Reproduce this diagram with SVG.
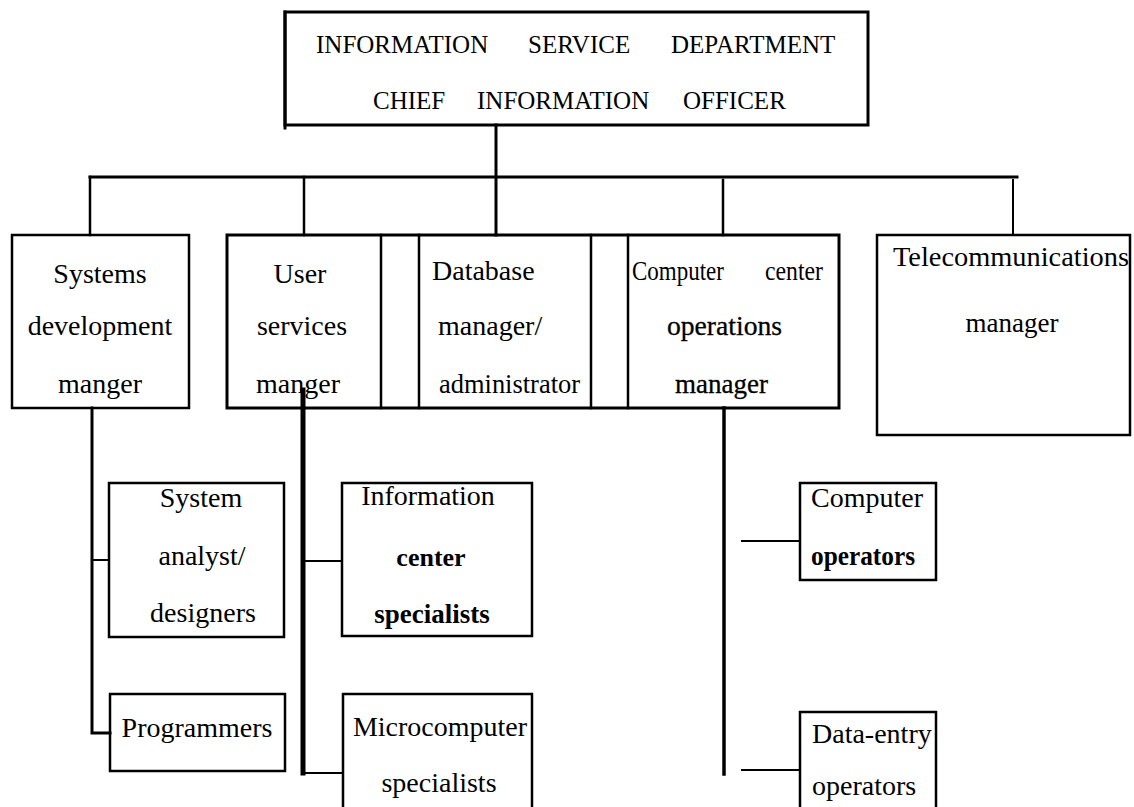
<svg xmlns="http://www.w3.org/2000/svg" width="1134" height="807" viewBox="0 0 1134 807">
<style>
  .box{fill:none;stroke:#000;stroke-width:2.5}
  .heavy{fill:none;stroke:#000;stroke-width:3}
  .ln{stroke:#000;fill:none;stroke-linecap:square}
  text{font-family:"Liberation Serif","Times New Roman",serif;fill:#000;font-size:28px}
  .top{font-size:25px}
  .c{text-anchor:middle}
  .b{font-weight:bold}
  .sb{stroke:#000;stroke-width:0.3}
</style>
<rect width="1134" height="807" fill="#fff"/>

<g id="connectors">
  <line class="ln" x1="496" y1="125" x2="496" y2="235" stroke-width="3"/>
  <line class="ln" x1="90" y1="177" x2="1017" y2="177" stroke-width="3"/>
  <line class="ln" x1="90" y1="177" x2="90" y2="235" stroke-width="2.5"/>
  <line class="ln" x1="304" y1="177" x2="304" y2="235" stroke-width="2.5"/>
  <line class="ln" x1="723" y1="180" x2="723" y2="235" stroke-width="2.5"/>
  <line class="ln" x1="1013" y1="180" x2="1013" y2="235" stroke-width="2"/>
  <polyline class="ln" points="92,408 92,733 110,733" stroke-width="3"/>
  <line class="ln" x1="92" y1="560" x2="109" y2="560" stroke-width="2"/>
  <line class="ln" x1="303" y1="390" x2="303" y2="773" stroke-width="5"/>
  <line class="ln" x1="303" y1="561" x2="342" y2="561" stroke-width="2"/>
  <line class="ln" x1="303" y1="773" x2="343" y2="773" stroke-width="2"/>
  <line class="ln" x1="724" y1="408" x2="724" y2="774" stroke-width="3.5"/>
  <line class="ln" x1="742" y1="541" x2="800" y2="541" stroke-width="2"/>
  <line class="ln" x1="742" y1="770" x2="800" y2="770" stroke-width="2"/>
</g>

<g id="node-ciso">
  <rect class="heavy" x="285" y="12" width="583" height="113"/>
  <line class="ln" x1="285" y1="12" x2="285" y2="128" stroke-width="3"/>
  <text class="top" y="53"><tspan x="316">INFORMATION</tspan><tspan x="528">SERVICE</tspan><tspan x="671">DEPARTMENT</tspan></text>
  <text class="top" y="109"><tspan x="373">CHIEF</tspan><tspan x="477">INFORMATION</tspan><tspan x="683">OFFICER</tspan></text>
</g>

<g id="node-sysdev">
  <rect class="box" x="12" y="235" width="177" height="173"/>
  <text class="c" x="100" y="283">Systems</text>
  <text class="c" x="100" y="335">development</text>
  <text class="c" x="100" y="393">manger</text>
</g>

<g id="manager-frame">
  <rect class="heavy" x="227" y="235" width="612" height="173"/>
  <line class="ln" x1="381" y1="235" x2="381" y2="408" stroke-width="2.5"/>
  <line class="ln" x1="419" y1="235" x2="419" y2="408" stroke-width="2.5"/>
  <line class="ln" x1="591" y1="235" x2="591" y2="408" stroke-width="2.5"/>
  <line class="ln" x1="628" y1="235" x2="628" y2="408" stroke-width="2.5"/>
</g>

<g id="node-userservices">
  <text class="c" x="300" y="283">User</text>
  <text class="c" x="302" y="335">services</text>
  <text class="c" x="298" y="393">manger</text>
</g>

<g id="node-database">
  <text x="432" y="280">Database</text>
  <text x="438" y="335">manager/</text>
  <text x="439" y="393" textLength="141" lengthAdjust="spacingAndGlyphs">administrator</text>
</g>

<g id="node-computercenter">
  <text x="632" y="280" textLength="92" lengthAdjust="spacingAndGlyphs">Computer</text>
  <text x="765" y="280" textLength="58" lengthAdjust="spacingAndGlyphs">center</text>
  <text class="sb" x="667" y="335" textLength="115" lengthAdjust="spacingAndGlyphs">operations</text>
  <text class="sb" x="675" y="393" textLength="93" lengthAdjust="spacingAndGlyphs">manager</text>
</g>

<g id="node-telecom">
  <rect class="box" x="877" y="235" width="253" height="200"/>
  <text x="893" y="266" textLength="236" lengthAdjust="spacingAndGlyphs">Telecommunications</text>
  <text class="c" x="1012" y="332" style="font-size:27px">manager</text>
</g>

<g id="node-analyst">
  <rect class="box" x="109" y="483" width="175" height="154"/>
  <text class="c" x="201" y="507">System</text>
  <text class="c" x="202" y="565">analyst/</text>
  <text class="c" x="203" y="622">designers</text>
</g>

<g id="node-programmers">
  <rect class="box" x="110" y="694" width="175" height="77"/>
  <text class="c" x="197" y="737">Programmers</text>
</g>

<g id="node-infocenter">
  <rect class="box" x="342" y="483" width="190" height="153"/>
  <text class="c" x="428" y="505">Information</text>
  <text class="c b" x="431" y="566" style="font-size:26px">center</text>
  <text class="c b" x="432" y="623" style="font-size:27px">specialists</text>
</g>

<g id="node-microcomputer">
  <rect class="box" x="343" y="694" width="189" height="120"/>
  <text class="c" x="440" y="736">Microcomputer</text>
  <text class="c" x="439" y="792">specialists</text>
</g>

<g id="node-compoperators">
  <rect class="box" x="800" y="483" width="136" height="97"/>
  <text x="811" y="507">Computer</text>
  <text class="b" x="811" y="565" textLength="104" lengthAdjust="spacingAndGlyphs">operators</text>
</g>

<g id="node-dataentry">
  <rect class="box" x="800" y="712" width="136" height="102"/>
  <text x="812" y="743">Data-entry</text>
  <text x="812" y="795">operators</text>
</g>
</svg>
